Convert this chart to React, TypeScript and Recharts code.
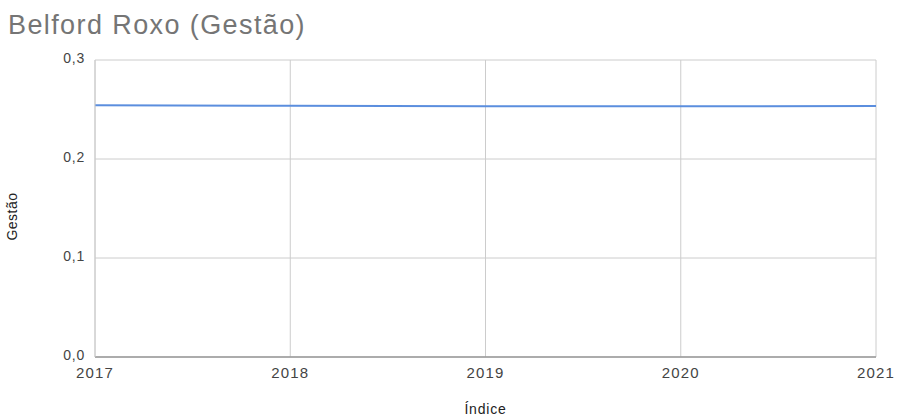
import React from "react";
import {
  LineChart,
  Line,
  XAxis,
  YAxis,
  CartesianGrid,
  Label,
} from "recharts";

const years = [2017, 2018, 2019, 2020, 2021];
const gestao = [0.2542, 0.2538, 0.2532, 0.2532, 0.2535];
const yTicks = [0, 0.1, 0.2, 0.3];

const chartData = years.map((ano, i) => ({
  ano,
  gestao: gestao[i],
}));

const fmt = (v: number) => v.toFixed(1).replace(".", ",");

const font = "'Liberation Sans', Arial, sans-serif";

export default function App() {
  return (
    <div
      style={{
        position: "absolute",
        left: 0,
        top: 0,
        width: 897,
        height: 416,
        background: "#fff",
        fontFamily: font,
      }}
    >
      <div
        style={{
          position: "absolute",
          left: 8,
          top: 9,
          fontSize: 27,
          lineHeight: "32px",
          letterSpacing: 1.4,
          color: "#757575",
        }}
      >
        Belford Roxo (Gestão)
      </div>

      <LineChart
        width={897}
        height={416}
        data={chartData}
        margin={{ top: 60, right: 21, left: 0, bottom: 0 }}
      >
        <CartesianGrid stroke="#cccccc" />
        <XAxis
          dataKey="ano"
          type="number"
          domain={[2017, 2021]}
          ticks={years}
          height={59}
          tickLine={false}
          tickSize={0}
          tickMargin={10}
          axisLine={{ stroke: "#999999", strokeWidth: 1.5 }}
          tick={{
            fill: "#444444",
            fontSize: 15,
            fontFamily: font,
            letterSpacing: 1.2,
          }}
        >
          <Label
            value="Índice"
            position="insideBottom"
            offset={2}
            fill="#222222"
            fontSize={14}
            fontFamily={font}
            letterSpacing={0.8}
          />
        </XAxis>
        <YAxis
          type="number"
          domain={[0, 0.3]}
          ticks={yTicks}
          width={95}
          tickLine={false}
          tickSize={0}
          tickMargin={10}
          tickFormatter={fmt}
          axisLine={{ stroke: "#cccccc" }}
          tick={{
            fill: "#444444",
            fontSize: 14,
            fontFamily: font,
            letterSpacing: 0.8,
            dy: -2,
          }}
        >
          <Label
            value="Gestão"
            angle={-90}
            position="insideLeft"
            offset={12}
            dy={8}
            fill="#222222"
            fontSize={14}
            fontFamily={font}
            letterSpacing={0.5}
            style={{ textAnchor: "middle" }}
          />
        </YAxis>
        <Line
          type="linear"
          dataKey="gestao"
          stroke="#5b8ede"
          strokeWidth={2}
          dot={false}
          isAnimationActive={false}
        />
      </LineChart>
    </div>
  );
}
